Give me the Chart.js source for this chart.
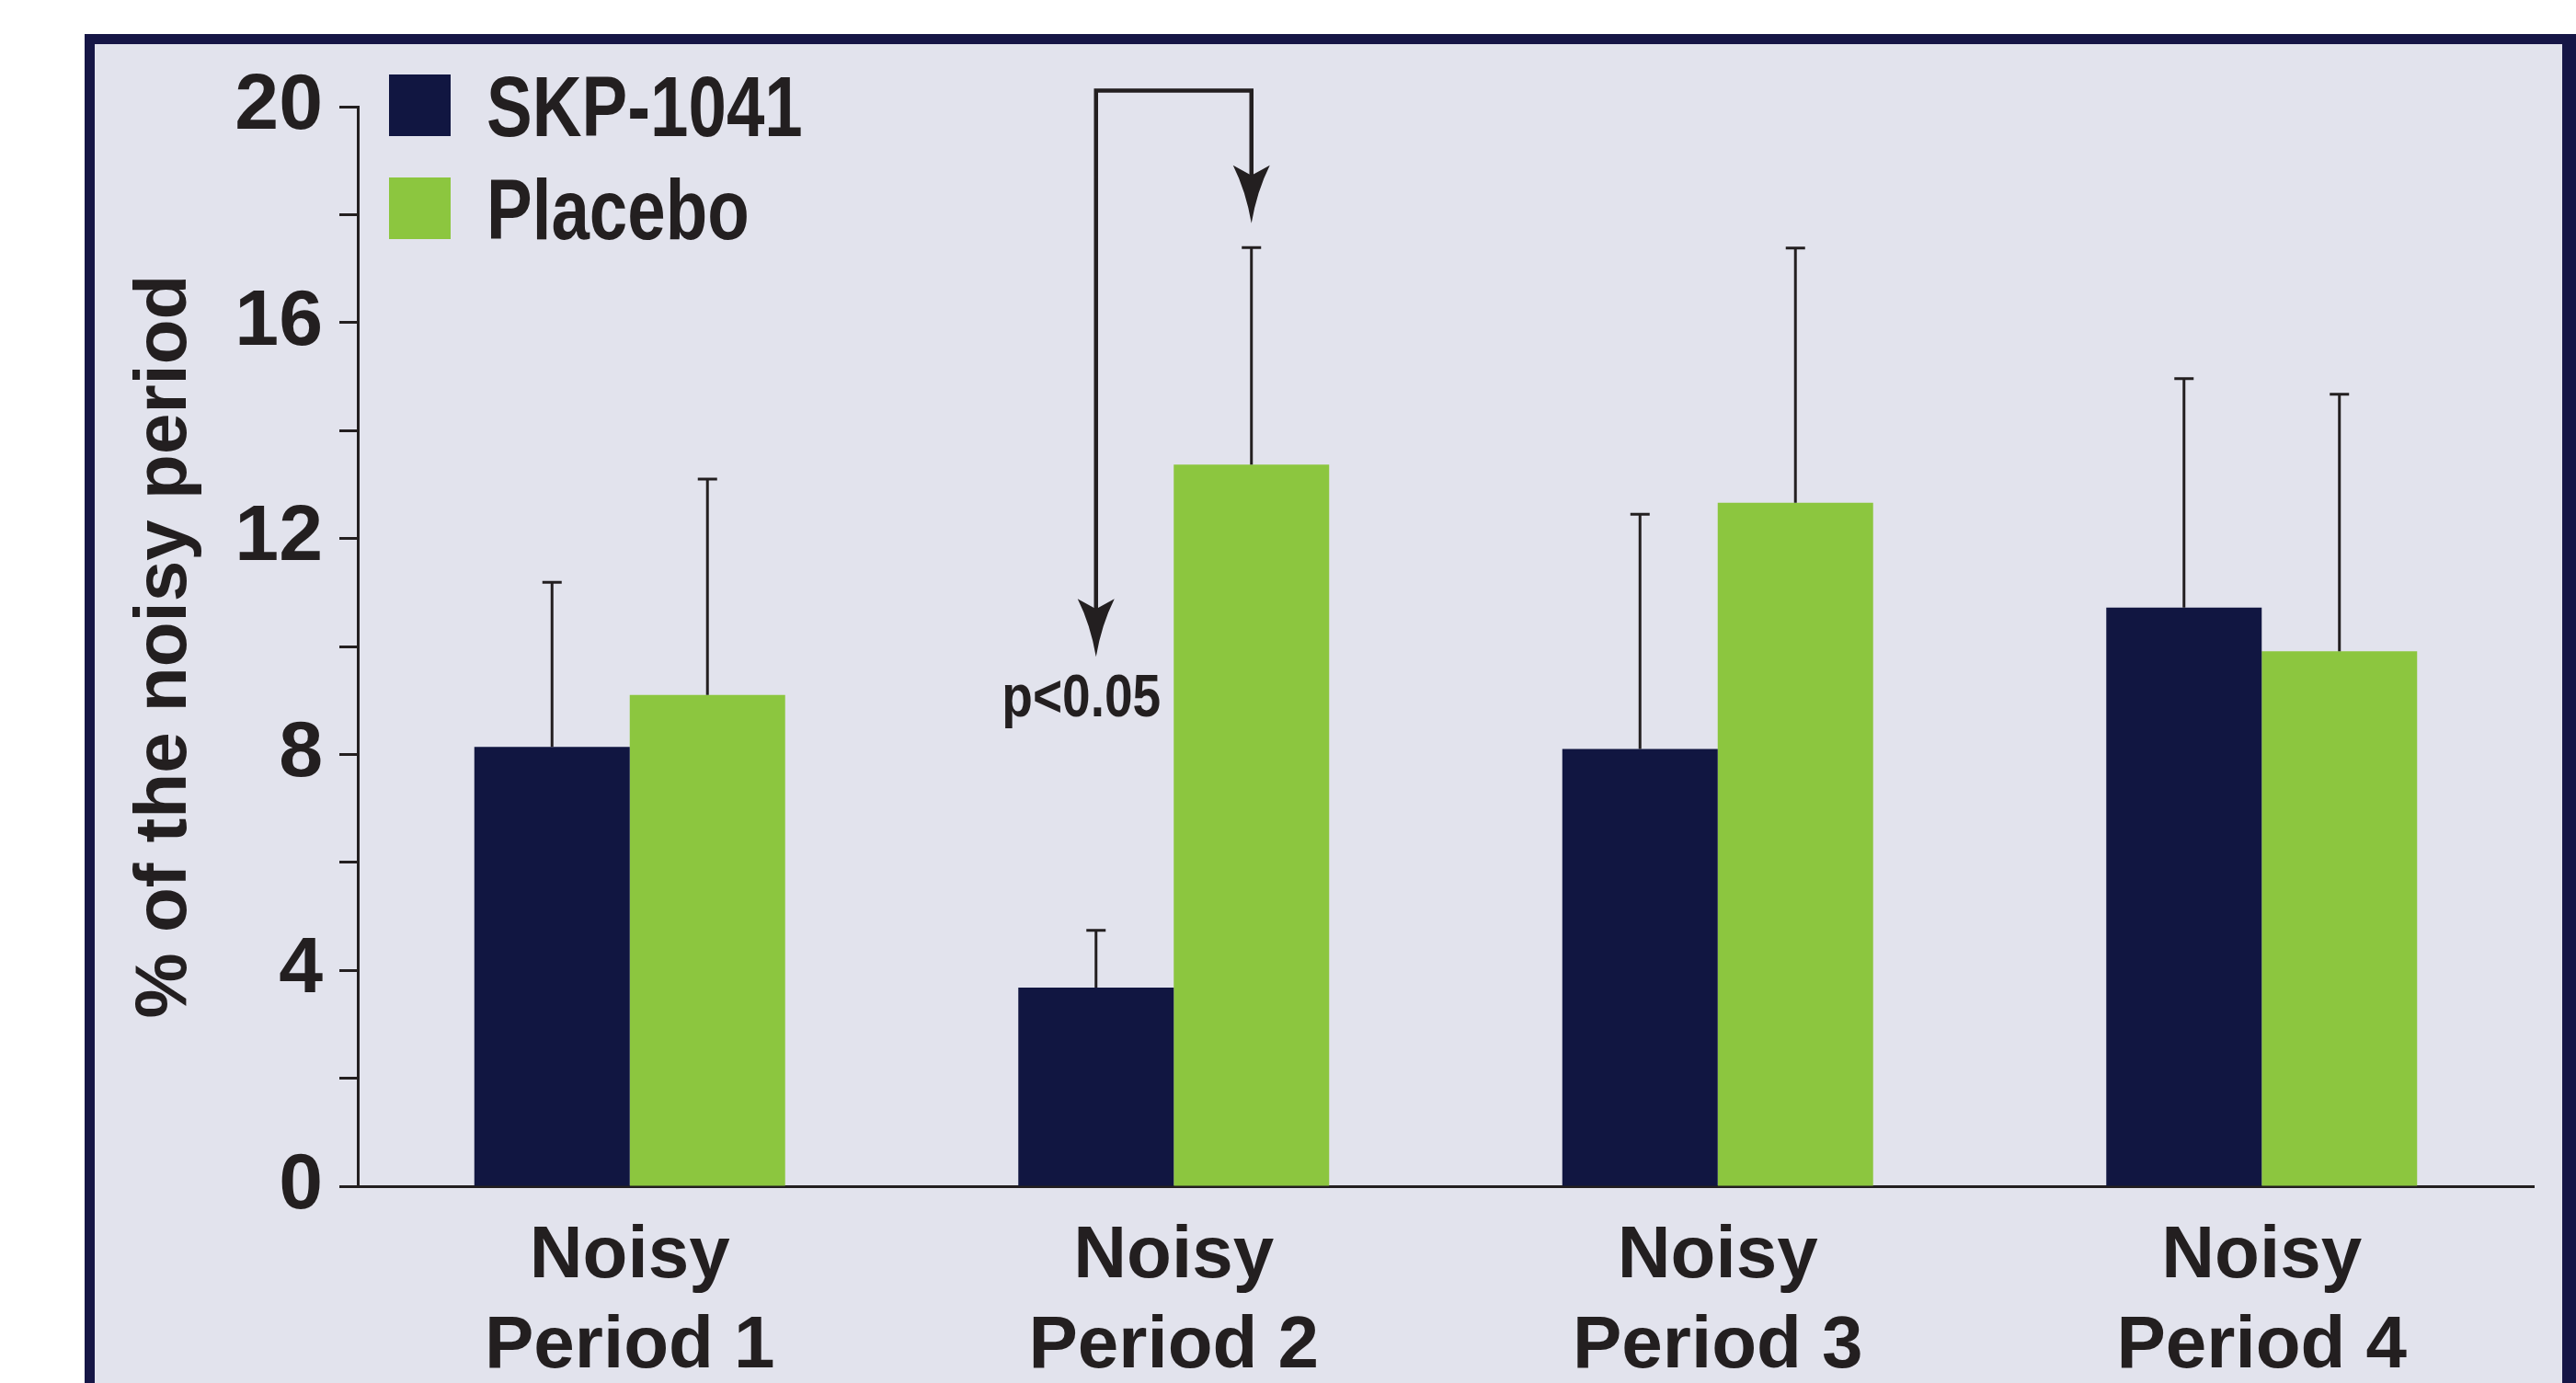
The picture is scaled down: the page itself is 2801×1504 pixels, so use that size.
<!DOCTYPE html>
<html>
<head>
<meta charset="utf-8">
<script src="https://cdn.jsdelivr.net/npm/chart.js"></script>
<style>
  html, body { margin:0; padding:0; background:#fff; overflow:hidden; width:2801px; height:1504px; }
  .frame { position:absolute; left:92px; top:37px; width:2683px; height:1600px; background:#e2e3ed;
           border:11px solid #161646; border-right-width:15px; border-bottom:none; }
  #chart { position:absolute; left:0; top:0; }
</style>
</head>
<body>
<div class="frame"></div>
<canvas id="chart" width="2801" height="1504"></canvas>
<script>
// values (bar = mean, err = top of the error bar)
const categories = [['Noisy', 'Period 1'], ['Noisy', 'Period 2'], ['Noisy', 'Period 3'], ['Noisy', 'Period 4']];
const seriesNames = ['SKP-1041', 'Placebo'];
const skpValues = [8.14, 3.68, 8.10, 10.72];
const skpErrTop = [11.19, 4.74, 12.45, 14.96];
const placeboValues = [9.10, 13.37, 12.66, 9.91];
const placeboErrTop = [13.10, 17.39, 17.38, 14.67];
const yLabelled = [0, 4, 8, 12, 16, 20];
const yTitle = '% of the noisy period';

// significance bracket between the two bars of one category
const sigIndex = 1;
const sigLabel = 'p<0.05';
const sigBracketTop = 20.3;
const sigArrowEnds = [9.81, 17.84];

const INK = '#231f20';
const FONT = '"Liberation Sans Narrow", "Liberation Sans", Arial, sans-serif';
const colors = ['#111641', '#8cc63f'];
const errTops = [skpErrTop, placeboErrTop];

// condensed text for the hand drawn bits (no narrow face installed)
function narrowText(ctx, text, x, y, squeeze, align) {
  ctx.save();
  ctx.translate(x, y);
  ctx.scale(squeeze, 1);
  ctx.textAlign = align;
  ctx.fillText(text, 0, 0);
  ctx.restore();
}

const errorBars = {
  id: 'errorBars',
  afterDatasetsDraw(chart) {
    const ctx = chart.ctx, y = chart.scales.y;
    ctx.save();
    ctx.strokeStyle = INK; ctx.lineWidth = 3; ctx.lineCap = 'butt';
    chart.data.datasets.forEach((ds, i) => {
      chart.getDatasetMeta(i).data.forEach((bar, j) => {
        const top = y.getPixelForValue(errTops[i][j]);
        ctx.beginPath();
        ctx.moveTo(bar.x, bar.y); ctx.lineTo(bar.x, top);
        ctx.moveTo(bar.x - 10.5, top); ctx.lineTo(bar.x + 10.5, top);
        ctx.stroke();
      });
    });
    ctx.restore();
  }
};

function arrowHead(ctx, x, tipY) {
  ctx.beginPath();
  ctx.moveTo(x, tipY);
  ctx.quadraticCurveTo(x - 6, tipY - 35, x - 20, tipY - 63);
  ctx.lineTo(x, tipY - 52);
  ctx.lineTo(x + 20, tipY - 63);
  ctx.quadraticCurveTo(x + 6, tipY - 35, x, tipY);
  ctx.fill();
}

const sigBracket = {
  id: 'sigBracket',
  afterDatasetsDraw(chart) {
    const ctx = chart.ctx, y = chart.scales.y;
    const xL = chart.getDatasetMeta(0).data[sigIndex].x;
    const xR = chart.getDatasetMeta(1).data[sigIndex].x;
    const top = y.getPixelForValue(sigBracketTop);
    const tipL = y.getPixelForValue(sigArrowEnds[0]);
    const tipR = y.getPixelForValue(sigArrowEnds[1]);
    ctx.save();
    ctx.strokeStyle = INK; ctx.fillStyle = INK; ctx.lineWidth = 4.5; ctx.lineJoin = 'miter';
    ctx.beginPath();
    ctx.moveTo(xL, tipL - 50); ctx.lineTo(xL, top); ctx.lineTo(xR, top); ctx.lineTo(xR, tipR - 50);
    ctx.stroke();
    arrowHead(ctx, xL, tipL);
    arrowHead(ctx, xR, tipR);
    ctx.font = 'bold 64px ' + FONT;
    ctx.textBaseline = 'alphabetic';
    narrowText(ctx, sigLabel, xL - 16, tipL + 65, 0.86, 'center');
    ctx.restore();
  }
};

const boxLegend = {
  id: 'boxLegend',
  afterDraw(chart) {
    const ctx = chart.ctx;
    ctx.save();
    ctx.font = 'bold 92px ' + FONT;
    ctx.textBaseline = 'alphabetic';
    chart.data.datasets.forEach((ds, i) => {
      const top = 81 + i * 112;
      ctx.fillStyle = ds.backgroundColor;
      ctx.fillRect(423, top, 67, 67);
      ctx.fillStyle = INK;
      narrowText(ctx, ds.label, 529, top + 67, 0.81, 'left');
    });
    ctx.restore();
  }
};

new Chart(document.getElementById('chart'), {
  type: 'bar',
  data: {
    labels: categories,
    datasets: [
      { label: seriesNames[0], data: skpValues, backgroundColor: colors[0] },
      { label: seriesNames[1], data: placeboValues, backgroundColor: colors[1] }
    ]
  },
  options: {
    responsive: false, animation: false, devicePixelRatio: 1,
    layout: { padding: { left: 0, top: 116, right: 46, bottom: 0 } },
    datasets: { bar: { categoryPercentage: 0.5714, barPercentage: 1, borderWidth: 0 } },
    plugins: { legend: { display: false }, tooltip: { enabled: false } },
    scales: {
      x: {
        grid: { display: false, drawTicks: false },
        border: { display: true, color: INK, width: 3 },
        ticks: { color: INK, padding: 28, maxRotation: 0, autoSkip: false,
                 font: { family: FONT, weight: 'bold', size: 80, lineHeight: 1.225 } },
        afterFit(scale) { scale.height = 214; }
      },
      y: {
        min: 0, max: 20,
        grid: { drawOnChartArea: false, drawTicks: true, tickLength: 20, tickWidth: 3, tickColor: INK },
        border: { display: true, color: INK, width: 3 },
        ticks: { stepSize: 2, padding: 18, color: INK,
                 font: { family: FONT, weight: 'bold', size: 86, lineHeight: 1 },
                 callback: v => yLabelled.includes(v) ? String(v) : '' },
        title: { display: true, text: yTitle, color: INK, padding: { top: 140, bottom: 0 },
                 font: { family: FONT, weight: 'bold', size: 80, lineHeight: 1 } },
        afterFit(scale) { scale.width = 389; }
      }
    }
  },
  plugins: [errorBars, sigBracket, boxLegend]
});
</script>
</body>
</html>
